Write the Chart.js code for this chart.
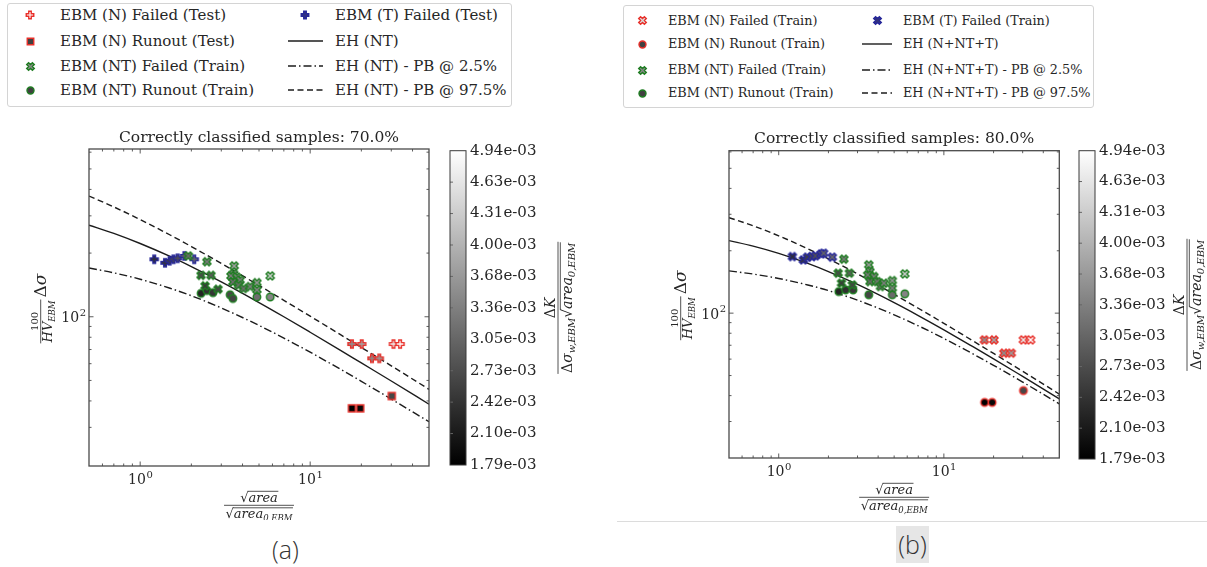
<!DOCTYPE html>
<html>
<head>
<meta charset="utf-8">
<title>El Haddad diagrams – EBM</title>
<script src="https://cdn.jsdelivr.net/npm/chart.js@4.4.1/dist/chart.umd.min.js"></script>
<style>
  html, body { margin: 0; padding: 0; background: #fff; }
  #page { position: relative; width: 1207px; height: 567px; overflow: hidden; background: #fff; }
  #page canvas { position: absolute; display: block; }
  .legend-box { position: absolute; border: 1px solid #d4d4d4; border-radius: 3px; box-sizing: border-box; background: #fff; }
  .legend-text { position: absolute; font-family: "DejaVu Serif", serif; color: #262626; white-space: nowrap; }
  .caption { position: absolute; font-family: "Open Sans", sans-serif; font-weight: 300; font-size: 25px; color: #333; line-height: 1; }
  #rule { position: absolute; left: 617px; top: 521px; width: 590px; height: 1px; background: #dcdcdc; }
  #capA { left: 272px; top: 537px; }
  #capB { left: 896px; top: 526px; width: 33px; height: 37px; line-height: 37px; text-align: center; background: #e6e6e6; }
</style>
</head>
<body>
<div id="page">
  <div id="rule"></div>
  <div class="caption" id="capA">(a)</div>
  <div class="caption" id="capB">(b)</div>
</div>
<script>
// ---------- abscissae shared by the El Haddad curves ----------
const curveX = [0.5, 0.7, 1, 1.5, 2, 3, 5, 7, 10, 15, 20, 30, 50];

// ---------- colour bar: ΔK / (Δσw,EBM √area0,EBM), in units of 1e-3 ----------
const cbarMin = 1.79, cbarMax = 4.94;
const cbarTicks = [1.79, 2.105, 2.42, 2.735, 3.05, 3.365, 3.68, 3.995, 4.31, 4.625, 4.94];
const cbarLabels = ['1.79e-03', '2.10e-03', '2.42e-03', '2.73e-03', '3.05e-03', '3.36e-03',
                    '3.68e-03', '4.00e-03', '4.31e-03', '4.63e-03', '4.94e-03'];

// ---------- panel (a): EH fitted on NT ----------
const aTitle = 'Correctly classified samples: 70.0%';
const aLabels = ['EBM (N) Failed (Test)', 'EBM (N) Runout (Test)', 'EBM (NT) Failed (Train)',
                 'EBM (NT) Runout (Train)', 'EBM (T) Failed (Test)', 'EH (NT)',
                 'EH (NT) - PB @ 2.5%', 'EH (NT) - PB @ 97.5%'];
const aNFailX = [17.6, 20.1, 23.1, 25.5, 30.9, 33.8];
const aNFailY = [74.3, 74.3, 63.6, 63.6, 74.3, 74.3];
const aNFailK = [3.57, 3.82, 3.50, 3.68, 4.72, 4.94];
const aNRunX = [17.6, 19.7, 30.2];
const aNRunY = [36.9, 36.9, 42.2];
const aNRunK = [1.79, 1.89, 2.66];
const aNTFailX = [1.92, 2.47, 2.28, 2.61, 2.41, 2.87, 3.57, 3.54, 3.42, 3.70, 3.51, 3.87, 3.79, 4.05, 4.44, 4.86, 4.86, 5.82];
const aNTFailY = [194, 182, 157, 157, 140, 135, 174, 160, 156, 154, 146, 149, 141, 136, 139, 145, 134, 156];
const aNTFailK = [3.09, 3.28, 2.72, 2.91, 2.50, 2.63, 3.77, 3.45, 3.31, 3.40, 3.14, 3.36, 3.15, 3.14, 3.36, 3.66, 3.39, 4.31];
const aNTRunX = [2.28, 2.47, 2.68, 3.38, 3.51, 4.86, 5.82];
const aNTRunY = [129, 133, 130, 127, 122, 124, 124];
const aNTRunK = [2.24, 2.40, 2.45, 2.68, 2.63, 3.14, 3.43];
const aTFailX = [1.21, 1.40, 1.49, 1.57, 1.66, 1.82, 2.08];
const aTFailY = [187, 180, 184, 187, 189, 194, 187];
const aTFailK = [2.37, 2.45, 2.58, 2.69, 2.80, 3.00, 3.09];
const aEH     = [271, 247.9, 222, 192.8, 172.6, 146.1, 116.7, 100, 84.5, 69.6, 60.5, 49.7, 38.6];
const aEHLow  = [170, 161.3, 150.5, 136.4, 125.7, 110.1, 91.0, 79.3, 68.0, 56.6, 49.5, 40.8, 31.9];
const aEHHigh = [372, 330.6, 288.1, 243.5, 214.8, 178.7, 140.6, 119.6, 100.6, 82.5, 71.6, 58.6, 45.4];

// ---------- panel (b): EH fitted on N+NT+T ----------
const bTitle = 'Correctly classified samples: 80.0%';
const bLabels = ['EBM (N) Failed (Train)', 'EBM (N) Runout (Train)', 'EBM (NT) Failed (Train)',
                 'EBM (NT) Runout (Train)', 'EBM (T) Failed (Train)', 'EH (N+NT+T)',
                 'EH (N+NT+T) - PB @ 2.5%', 'EH (N+NT+T) - PB @ 97.5%'];
const bNFailX = [17.6, 20.1, 23.1, 25.6, 30.3, 33.5];
const bNFailY = [74.3, 74.3, 64.1, 64.1, 74.3, 74.3];
const bNFailK = [3.58, 3.82, 3.53, 3.71, 4.68, 4.92];
const bNRunX = [17.65, 19.6, 30.3];
const bNRunY = [37.1, 37.1, 42.3];
const bNRunK = [1.80, 1.89, 2.68];
const bNTFailX = [2.48, 2.29, 2.68, 2.40, 2.79, 3.51, 3.57, 3.46, 3.77, 3.57, 3.95, 4.13, 4.33, 4.87, 4.87, 5.80];
const bNTFailY = [182.2, 156, 156, 139.6, 136.9, 171, 158.8, 153, 150.2, 142, 142, 134.4, 139.6, 143.6, 132, 154.7];
const bNTFailK = [3.29, 2.71, 2.93, 2.49, 2.63, 3.67, 3.44, 3.26, 3.34, 3.08, 3.24, 3.13, 3.33, 3.63, 3.34, 4.26];
const bNTRunX = [2.31, 2.54, 2.82, 3.51, 4.87, 5.80];
const bNTRunY = [127.1, 129.5, 129.5, 122.6, 122.6, 123.9];
const bNTRunK = [2.22, 2.37, 2.50, 2.64, 3.10, 3.42];
const bTFailX = [1.21, 1.41, 1.49, 1.59, 1.67, 1.81, 1.87, 2.11];
const bTFailY = [187.5, 180.7, 186.3, 187.5, 189, 193.2, 194.6, 186.3];
const bTFailK = [2.37, 2.46, 2.61, 2.72, 2.80, 2.98, 3.05, 3.10];
const bEH     = [224, 210.6, 194.3, 173.9, 158.8, 137.6, 112.4, 97.4, 83.1, 68.9, 60.2, 49.5, 38.6];
const bEHLow  = [160, 154.4, 147.0, 136.8, 128.5, 115.5, 98.2, 86.9, 75.5, 63.6, 56.0, 46.5, 36.5];
const bEHHigh = [289, 263.9, 236.1, 204.5, 182.9, 154.6, 123.3, 105.6, 89.3, 73.5, 63.9, 52.4, 40.7];

// ---------- styling ----------
const FONT = '"DejaVu Serif"';
const fnt = (size, italic) => (italic ? 'italic ' : '') + size + 'px ' + FONT;
const INK = '#262626';
const RED = '#e8302a', GREEN = '#1f7d22', BLUE = '#26279a';
const DASHED = [6, 3.5], DASHDOT = [8, 3, 1.5, 3];
const page = document.getElementById('page');

Chart.defaults.font.family = FONT;
Chart.defaults.color = INK;

function grayOf(k) {
  let t = (k - cbarMin) / (cbarMax - cbarMin);
  t = Math.max(0, Math.min(1, t));
  const g = Math.round(255 * t);
  return 'rgb(' + g + ',' + g + ',' + g + ')';
}

// filled marker sprites (plus, x, square, circle) with coloured edge
const markerCache = {};
function marker(shape, fill, edge, size) {
  const key = [shape, fill, edge, size].join('|');
  if (markerCache[key]) return markerCache[key];
  const lw = 1.4;
  const dim = Math.ceil(size + lw * 2 + 3);
  const c = document.createElement('canvas');
  c.width = c.height = dim;
  const g = c.getContext('2d');
  g.translate(dim / 2, dim / 2);
  const r = size / 2;
  g.beginPath();
  if (shape === 'circle') {
    g.arc(0, 0, r, 0, Math.PI * 2);
  } else if (shape === 'square') {
    g.rect(-r, -r, size, size);
  } else {
    const t = r / 3;
    const outline = [[-t, -r], [t, -r], [t, -t], [r, -t], [r, t], [t, t], [t, r], [-t, r], [-t, t], [-r, t], [-r, -t], [-t, -t]];
    const a = shape === 'x' ? Math.PI / 4 : 0;
    const s = shape === 'x' ? 1.15 : 1;
    outline.forEach(([px, py], i) => {
      const X = s * (px * Math.cos(a) - py * Math.sin(a));
      const Y = s * (px * Math.sin(a) + py * Math.cos(a));
      if (i) g.lineTo(X, Y); else g.moveTo(X, Y);
    });
    g.closePath();
  }
  g.fillStyle = fill;
  g.fill();
  g.lineWidth = lw;
  g.strokeStyle = edge;
  g.stroke();
  markerCache[key] = c;
  return c;
}

const pts = (xs, ys, ks) => xs.map((x, i) => ({ x, y: ys[i], k: ks[i] }));
const curve = ys => curveX.map((x, i) => ({ x, y: ys[i] }));

function pointSet(label, data, shape, edge, legendFill, slot, msize) {
  return {
    label, data, shape, edge, legendFill, slot, msize,
    showLine: false,
    pointRadius: 4,
    pointHoverRadius: 4,
    pointStyle: c => marker(shape, grayOf(c.raw ? c.raw.k : cbarMin), edge, msize)
  };
}
function curveSet(label, ys, dash, slot) {
  return {
    label, data: curve(ys), slot,
    showLine: true, pointRadius: 0, fill: false,
    borderColor: '#1c1c1c', borderWidth: 1.4, borderDash: dash,
    cubicInterpolationMode: 'monotone'
  };
}

// ---------- text helpers (math-style labels) ----------
function runsW(ctx, runs) {
  let w = 0;
  for (const r of runs) { ctx.font = r.f; w += ctx.measureText(r.t).width; }
  return w;
}
function drawRuns(ctx, runs, u, base, overH) {
  let o0 = null, o1 = null;
  for (const r of runs) {
    ctx.font = r.f;
    const w = ctx.measureText(r.t).width;
    ctx.fillText(r.t, u, base + (r.dy || 0));
    if (r.over) { if (o0 === null) o0 = u - 1; o1 = u + w + 0.5; }
    u += w;
  }
  if (o0 !== null) {
    ctx.beginPath(); ctx.moveTo(o0, base - overH); ctx.lineTo(o1, base - overH); ctx.stroke();
  }
  return u;
}
function drawPow(ctx, exp, px, base, align) {
  ctx.font = fnt(14); const w1 = ctx.measureText('10').width;
  ctx.font = fnt(10); const w2 = ctx.measureText(exp).width;
  const left = align === 'center' ? px - (w1 + w2) / 2 : px - (w1 + w2);
  ctx.font = fnt(14); ctx.fillText('10', left, base);
  ctx.font = fnt(10); ctx.fillText(exp, left + w1 + 0.5, base - 6.5);
}
const niceLog = v => { const e = Math.floor(Math.log10(v) + 1e-9); const m = v / Math.pow(10, e); return Math.abs(m - Math.round(m)) < 1e-6; };
const isDecade = v => Math.abs(Math.log10(v) - Math.round(Math.log10(v))) < 1e-9;

// frame, inward ticks, tick labels, title and axis labels of a scatter panel
const panelDecor = {
  id: 'panelDecor',
  afterDatasetsDraw(chart, args, o) {
    const { ctx, chartArea: a, scales: { x, y } } = chart;
    ctx.save();
    ctx.strokeStyle = '#4a4a4a';
    ctx.fillStyle = INK;
    ctx.textAlign = 'left';
    ctx.textBaseline = 'alphabetic';
    ctx.lineWidth = 0.9;
    ctx.beginPath();
    x.ticks.forEach(t => {
      if (!niceLog(t.value)) return;
      const p = x.getPixelForValue(t.value);
      if (p <= a.left + 1 || p >= a.right - 1) return;
      const L = isDecade(t.value) ? 4.5 : 2.5;
      ctx.moveTo(p, a.bottom); ctx.lineTo(p, a.bottom - L);
      ctx.moveTo(p, a.top); ctx.lineTo(p, a.top + L);
    });
    y.ticks.forEach(t => {
      if (!niceLog(t.value)) return;
      const p = y.getPixelForValue(t.value);
      if (p <= a.top + 1 || p >= a.bottom - 1) return;
      const L = isDecade(t.value) ? 4.5 : 2.5;
      ctx.moveTo(a.left, p); ctx.lineTo(a.left + L, p);
      ctx.moveTo(a.right, p); ctx.lineTo(a.right - L, p);
    });
    ctx.stroke();
    ctx.lineWidth = 1.3;
    ctx.strokeRect(a.left, a.top, a.right - a.left, a.bottom - a.top);

    // decade labels
    x.ticks.filter(t => isDecade(t.value)).forEach(t => {
      drawPow(ctx, String(Math.round(Math.log10(t.value))), x.getPixelForValue(t.value), a.bottom + 18, 'center');
    });
    y.ticks.filter(t => isDecade(t.value)).forEach(t => {
      drawPow(ctx, String(Math.round(Math.log10(t.value))), a.left - 3.5, y.getPixelForValue(t.value) + 5.5, 'right');
    });

    // title
    ctx.font = fnt(15.5);
    ctx.textAlign = 'center';
    ctx.fillText(o.title, (a.left + a.right) / 2, a.top - 7.5);
    ctx.textAlign = 'left';

    ctx.lineWidth = 0.8;
    ctx.strokeStyle = INK;
    // x label: √area / √area_0,EBM
    {
      const num = [{ t: '√', f: fnt(13) }, { t: 'area', f: fnt(13, true), over: true }];
      const den = [{ t: '√', f: fnt(13) }, { t: 'area', f: fnt(13, true), over: true },
                   { t: '0,EBM', f: fnt(8.5, true), dy: 3, over: true }];
      const wn = runsW(ctx, num), wd = runsW(ctx, den);
      const W = Math.max(wn, wd) + 3;
      const cx = (a.left + a.right) / 2, by = a.bottom + 39.3;
      ctx.beginPath(); ctx.moveTo(cx - W / 2, by); ctx.lineTo(cx + W / 2, by); ctx.stroke();
      drawRuns(ctx, num, cx - wn / 2, by - 3.5, 10.5);
      drawRuns(ctx, den, cx - wd / 2, by + 13, 10.5);
    }
    // y label: 100 / HV_EBM · Δσ (rotated)
    {
      const num = [{ t: '100', f: fnt(10) }];
      const den = [{ t: 'HV', f: fnt(13, true) }, { t: 'EBM', f: fnt(8.5, true), dy: 3 }];
      const tail = [{ t: 'Δ', f: fnt(17) }, { t: 'σ', f: fnt(17, true) }];
      const wn = runsW(ctx, num), wd = runsW(ctx, den), wt = runsW(ctx, tail);
      const W = Math.max(wn, wd) + 2;
      const L = W + 2 + wt;
      ctx.save();
      ctx.translate(a.left - 48.3, (a.top + a.bottom) / 2 + 1);
      ctx.rotate(-Math.PI / 2);
      const u0 = -L / 2;
      ctx.beginPath(); ctx.moveTo(u0, 0); ctx.lineTo(u0 + W, 0); ctx.stroke();
      drawRuns(ctx, num, u0 + (W - wn) / 2, -2.5, 0);
      drawRuns(ctx, den, u0 + (W - wd) / 2, 11, 0);
      drawRuns(ctx, tail, u0 + W + 2, 5.5, 0);
      ctx.restore();
    }
    ctx.restore();
  }
};

// frame, ticks and label of a colour bar
const cbarDecor = {
  id: 'cbarDecor',
  afterDatasetsDraw(chart) {
    const { ctx, chartArea: a, scales: { y } } = chart;
    ctx.save();
    ctx.strokeStyle = '#3a3a3a';
    ctx.lineWidth = 1;
    ctx.beginPath();
    cbarTicks.forEach(v => {
      const p = y.getPixelForValue(v);
      if (p <= a.top + 1 || p >= a.bottom - 1) return;
      ctx.moveTo(a.left, p); ctx.lineTo(a.left + 3, p);
    });
    ctx.strokeStyle = '#666';
    ctx.stroke();
    ctx.strokeStyle = '#3a3a3a';
    ctx.strokeRect(a.left, a.top, a.right - a.left, a.bottom - a.top);

    // label: ΔK / (Δσ_w,EBM √area_0,EBM), rotated
    ctx.fillStyle = INK;
    ctx.strokeStyle = INK;
    ctx.lineWidth = 0.8;
    ctx.textAlign = 'left';
    ctx.textBaseline = 'alphabetic';
    const num = [{ t: 'Δ', f: fnt(14) }, { t: 'K', f: fnt(14, true) }];
    const den = [{ t: 'Δ', f: fnt(14) }, { t: 'σ', f: fnt(14, true) }, { t: 'w,EBM', f: fnt(10, true), dy: 3 },
                 { t: '√', f: fnt(14) }, { t: 'area', f: fnt(14, true), over: true },
                 { t: '0,EBM', f: fnt(10, true), dy: 3, over: true }];
    const wn = runsW(ctx, num), wd = runsW(ctx, den);
    const W = Math.max(wn, wd) + 2;
    ctx.translate(a.right + 92, (a.top + a.bottom) / 2);
    ctx.rotate(-Math.PI / 2);
    ctx.beginPath(); ctx.moveTo(-W / 2, 0); ctx.lineTo(W / 2, 0); ctx.stroke();
    drawRuns(ctx, num, -wn / 2, -3, 0);
    drawRuns(ctx, den, -wd / 2, 13.5, 11.2);
    ctx.restore();
  }
};

function addCanvas(box) {
  const cv = document.createElement('canvas');
  cv.width = box.width; cv.height = box.height;
  cv.style.left = box.left + 'px'; cv.style.top = box.top + 'px';
  cv.style.width = box.width + 'px'; cv.style.height = box.height + 'px';
  page.appendChild(cv);
  return cv;
}

function makePanel(spec) {
  const cv = addCanvas(spec.canvas);
  return new Chart(cv, {
    type: 'scatter',
    data: { datasets: spec.sets },
    options: {
      responsive: false, animation: false, events: [],
      layout: { padding: spec.pad },
      plugins: { legend: { display: false }, tooltip: { enabled: false }, panelDecor: { title: spec.title } },
      scales: {
        x: {
          type: 'logarithmic', min: 0.5, max: 50,
          grid: { display: false, drawTicks: false }, border: { display: false },
          ticks: { display: false },
          afterFit: s => { s.height = spec.xh; }
        },
        y: {
          type: 'logarithmic', min: spec.ymin, max: spec.ymax,
          grid: { display: false, drawTicks: false }, border: { display: false },
          ticks: { display: false },
          afterFit: s => { s.width = spec.yw; }
        }
      }
    },
    plugins: [panelDecor]
  });
}

function makeColorbar(spec) {
  const cv = addCanvas(spec.canvas);
  return new Chart(cv, {
    type: 'bar',
    data: {
      labels: [''],
      datasets: [{
        data: [[cbarMin, cbarMax]],
        borderWidth: 0, barPercentage: 1, categoryPercentage: 1,
        backgroundColor: c => {
          const a = c.chart.chartArea;
          if (!a) return '#777';
          const g = c.chart.ctx.createLinearGradient(0, a.bottom, 0, a.top);
          g.addColorStop(0, '#000');
          g.addColorStop(1, '#fff');
          return g;
        }
      }]
    },
    options: {
      responsive: false, animation: false, events: [],
      layout: { padding: spec.pad },
      plugins: { legend: { display: false }, tooltip: { enabled: false } },
      scales: {
        x: { display: false },
        y: {
          position: 'right', min: cbarMin, max: cbarMax,
          grid: { display: false, drawTicks: false }, border: { display: false },
          afterBuildTicks: s => { s.ticks = cbarTicks.map(v => ({ value: v })); },
          ticks: { autoSkip: false, padding: 4, color: INK, font: { family: FONT, size: 15 },
                   callback: (v, i) => cbarLabels[i] },
          afterFit: s => { s.width = spec.yw; }
        }
      }
    },
    plugins: [cbarDecor]
  });
}

function buildLegend(chart, L) {
  const box = document.createElement('div');
  box.className = 'legend-box';
  Object.assign(box.style, {
    left: L.box[0] + 'px', top: L.box[1] + 'px',
    width: (L.box[2] - L.box[0]) + 'px', height: (L.box[3] - L.box[1]) + 'px'
  });
  page.appendChild(box);
  chart.data.datasets.forEach(ds => {
    const [col, row] = ds.slot;
    const cy = L.rows[row];
    const icon = document.createElement('canvas');
    if (ds.showLine) {
      icon.width = L.lineW; icon.height = 8;
      const g = icon.getContext('2d');
      g.strokeStyle = ds.borderColor; g.lineWidth = ds.borderWidth;
      g.setLineDash(ds.borderDash || []);
      g.beginPath(); g.moveTo(0, 4); g.lineTo(L.lineW, 4); g.stroke();
    } else {
      const m = marker(ds.shape, ds.legendFill, ds.edge, ds.msize - 0.5);
      icon.width = m.width; icon.height = m.height;
      icon.getContext('2d').drawImage(m, 0, 0);
    }
    icon.style.left = (L.mark[col] - icon.width / 2) + 'px';
    icon.style.top = (cy - icon.height / 2) + 'px';
    page.appendChild(icon);
    const s = document.createElement('div');
    s.className = 'legend-text';
    s.textContent = ds.label;
    Object.assign(s.style, {
      left: L.text[col] + 'px', top: (cy - L.lh / 2) + 'px',
      fontSize: L.fs + 'px', lineHeight: L.lh + 'px'
    });
    page.appendChild(s);
  });
}

// ---------- panel (a) ----------
const chartA = makePanel({
  canvas: { left: 0, top: 120, width: 440, height: 400 },
  pad: { left: 0, right: 11, top: 29, bottom: 0 },
  yw: 89, xh: 54, ymin: 19.7, ymax: 621,
  title: aTitle,
  sets: [
    pointSet(aLabels[0], pts(aNFailX, aNFailY, aNFailK), 'plus', RED, '#ffffff', [0, 0], 8),
    pointSet(aLabels[1], pts(aNRunX, aNRunY, aNRunK), 'square', RED, '#404040', [0, 1], 7),
    pointSet(aLabels[2], pts(aNTFailX, aNTFailY, aNTFailK), 'x', GREEN, '#8a8a8a', [0, 2], 7.5),
    pointSet(aLabels[3], pts(aNTRunX, aNTRunY, aNTRunK), 'circle', GREEN, '#404040', [0, 3], 7.5),
    pointSet(aLabels[4], pts(aTFailX, aTFailY, aTFailK), 'plus', BLUE, '#34347a', [1, 0], 8),
    curveSet(aLabels[5], aEH, [], [1, 1]),
    curveSet(aLabels[6], aEHLow, DASHDOT, [1, 2]),
    curveSet(aLabels[7], aEHHigh, DASHED, [1, 3])
  ]
});
makeColorbar({ canvas: { left: 440, top: 130, width: 167, height: 350 },
               pad: { left: 10, right: 0, top: 20.7, bottom: 15 }, yw: 141 });
buildLegend(chartA, { box: [7, 3, 512, 107], rows: [15, 41, 66, 90], mark: [30, 305],
                      text: [60, 335], lineW: 35, fs: 15, lh: 18 });

// ---------- panel (b) ----------
const chartB = makePanel({
  canvas: { left: 610, top: 120, width: 460, height: 400 },
  pad: { left: 0, right: 10.7, top: 30.7, bottom: 0 },
  yw: 119, xh: 62, ymin: 20, ymax: 608,
  title: bTitle,
  sets: [
    pointSet(bLabels[0], pts(bNFailX, bNFailY, bNFailK), 'x', RED, '#dcdcdc', [0, 0], 7.5),
    pointSet(bLabels[1], pts(bNRunX, bNRunY, bNRunK), 'circle', RED, '#404040', [0, 1], 7.5),
    pointSet(bLabels[2], pts(bNTFailX, bNTFailY, bNTFailK), 'x', GREEN, '#8a8a8a', [0, 2], 7.5),
    pointSet(bLabels[3], pts(bNTRunX, bNTRunY, bNTRunK), 'circle', GREEN, '#404040', [0, 3], 7.5),
    pointSet(bLabels[4], pts(bTFailX, bTFailY, bTFailK), 'x', BLUE, '#34347a', [1, 0], 7.5),
    curveSet(bLabels[5], bEH, [], [1, 1]),
    curveSet(bLabels[6], bEHLow, DASHDOT, [1, 2]),
    curveSet(bLabels[7], bEHHigh, DASHED, [1, 3])
  ]
});
makeColorbar({ canvas: { left: 1070, top: 130, width: 137, height: 350 },
               pad: { left: 9, right: 0, top: 20.7, bottom: 21 }, yw: 112 });
buildLegend(chartB, { box: [623, 5, 1094, 108], rows: [20.7, 44, 70, 93.3], mark: [642, 877],
                      text: [668, 903], lineW: 30, fs: 12.8, lh: 16 });
</script>
</body>
</html>
